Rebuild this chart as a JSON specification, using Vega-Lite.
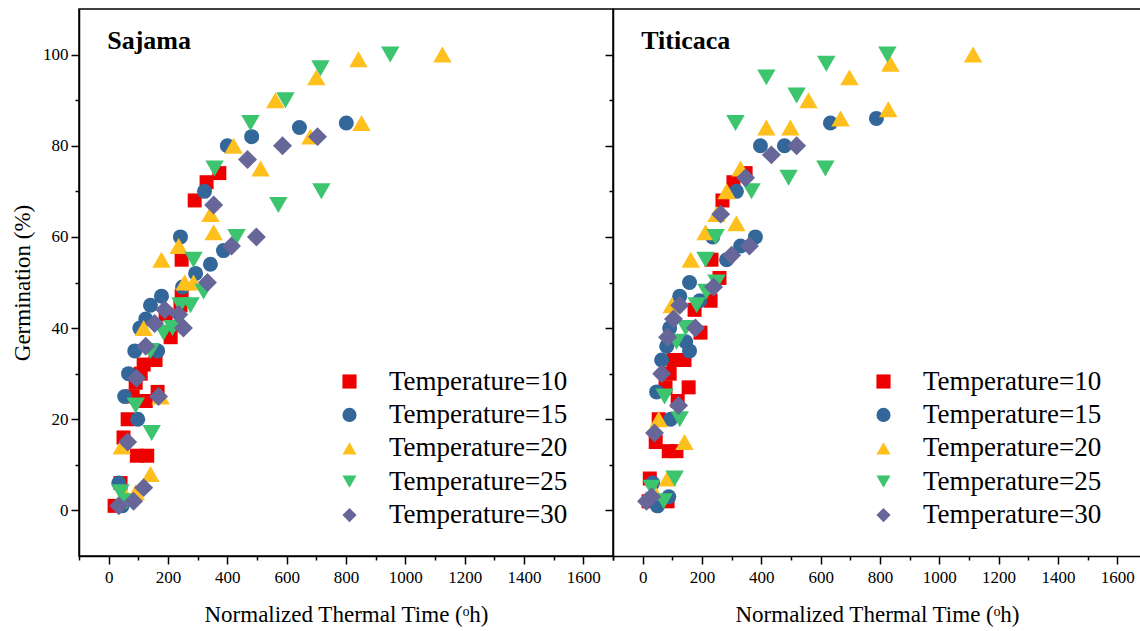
{
  "$schema": "https://vega.github.io/schema/vega-lite/v6.json",
  "padding": {"left": 10, "top": 8, "right": 0, "bottom": 0},
  "bounds": "flush",
  "spacing": 0,
  "datasets": {
    "germ": [
      {"site":"Sajama","T":10,"ntt":20,"g":1},{"site":"Sajama","T":10,"ntt":40,"g":6},{"site":"Sajama","T":10,"ntt":50,"g":16},{"site":"Sajama","T":10,"ntt":64,"g":20},{"site":"Sajama","T":10,"ntt":95,"g":12},{"site":"Sajama","T":10,"ntt":130,"g":12},{"site":"Sajama","T":10,"ntt":81,"g":25},{"site":"Sajama","T":10,"ntt":91,"g":28},{"site":"Sajama","T":10,"ntt":108,"g":30},{"site":"Sajama","T":10,"ntt":118,"g":32},{"site":"Sajama","T":10,"ntt":125,"g":24},{"site":"Sajama","T":10,"ntt":165,"g":26},{"site":"Sajama","T":10,"ntt":158,"g":33},{"site":"Sajama","T":10,"ntt":192,"g":43},{"site":"Sajama","T":10,"ntt":209,"g":38},{"site":"Sajama","T":10,"ntt":242,"g":45},{"site":"Sajama","T":10,"ntt":246,"g":47},{"site":"Sajama","T":10,"ntt":246,"g":55},{"site":"Sajama","T":10,"ntt":290,"g":68},{"site":"Sajama","T":10,"ntt":330,"g":72},{"site":"Sajama","T":10,"ntt":373,"g":74},
      {"site":"Sajama","T":15,"ntt":34,"g":6},{"site":"Sajama","T":15,"ntt":45,"g":1},{"site":"Sajama","T":15,"ntt":98,"g":20},{"site":"Sajama","T":15,"ntt":54,"g":25},{"site":"Sajama","T":15,"ntt":67,"g":30},{"site":"Sajama","T":15,"ntt":88,"g":35},{"site":"Sajama","T":15,"ntt":165,"g":35},{"site":"Sajama","T":15,"ntt":105,"g":40},{"site":"Sajama","T":15,"ntt":125,"g":42},{"site":"Sajama","T":15,"ntt":141,"g":45},{"site":"Sajama","T":15,"ntt":178,"g":47},{"site":"Sajama","T":15,"ntt":249,"g":49},{"site":"Sajama","T":15,"ntt":293,"g":52},{"site":"Sajama","T":15,"ntt":343,"g":54},{"site":"Sajama","T":15,"ntt":387,"g":57},{"site":"Sajama","T":15,"ntt":242,"g":60},{"site":"Sajama","T":15,"ntt":323,"g":70},{"site":"Sajama","T":15,"ntt":400,"g":80},{"site":"Sajama","T":15,"ntt":482,"g":82},{"site":"Sajama","T":15,"ntt":643,"g":84},{"site":"Sajama","T":15,"ntt":801,"g":85},
      {"site":"Sajama","T":20,"ntt":60,"g":3},{"site":"Sajama","T":20,"ntt":44,"g":14},{"site":"Sajama","T":20,"ntt":91,"g":4},{"site":"Sajama","T":20,"ntt":141,"g":8},{"site":"Sajama","T":20,"ntt":175,"g":25},{"site":"Sajama","T":20,"ntt":118,"g":40},{"site":"Sajama","T":20,"ntt":256,"g":50},{"site":"Sajama","T":20,"ntt":286,"g":50},{"site":"Sajama","T":20,"ntt":178,"g":55},{"site":"Sajama","T":20,"ntt":236,"g":58},{"site":"Sajama","T":20,"ntt":354,"g":61},{"site":"Sajama","T":20,"ntt":343,"g":65},{"site":"Sajama","T":20,"ntt":512,"g":75},{"site":"Sajama","T":20,"ntt":421,"g":80},{"site":"Sajama","T":20,"ntt":680,"g":82},{"site":"Sajama","T":20,"ntt":852,"g":85},{"site":"Sajama","T":20,"ntt":562,"g":90},{"site":"Sajama","T":20,"ntt":700,"g":95},{"site":"Sajama","T":20,"ntt":842,"g":99},{"site":"Sajama","T":20,"ntt":1125,"g":100},
      {"site":"Sajama","T":25,"ntt":40,"g":4},{"site":"Sajama","T":25,"ntt":60,"g":2},{"site":"Sajama","T":25,"ntt":91,"g":23},{"site":"Sajama","T":25,"ntt":145,"g":17},{"site":"Sajama","T":25,"ntt":141,"g":35},{"site":"Sajama","T":25,"ntt":185,"g":39},{"site":"Sajama","T":25,"ntt":215,"g":40},{"site":"Sajama","T":25,"ntt":242,"g":45},{"site":"Sajama","T":25,"ntt":276,"g":45},{"site":"Sajama","T":25,"ntt":320,"g":48},{"site":"Sajama","T":25,"ntt":286,"g":55},{"site":"Sajama","T":25,"ntt":431,"g":60},{"site":"Sajama","T":25,"ntt":572,"g":67},{"site":"Sajama","T":25,"ntt":717,"g":70},{"site":"Sajama","T":25,"ntt":357,"g":75},{"site":"Sajama","T":25,"ntt":478,"g":85},{"site":"Sajama","T":25,"ntt":596,"g":90},{"site":"Sajama","T":25,"ntt":714,"g":97},{"site":"Sajama","T":25,"ntt":949,"g":100},
      {"site":"Sajama","T":30,"ntt":34,"g":1},{"site":"Sajama","T":30,"ntt":84,"g":2},{"site":"Sajama","T":30,"ntt":118,"g":5},{"site":"Sajama","T":30,"ntt":64,"g":15},{"site":"Sajama","T":30,"ntt":168,"g":25},{"site":"Sajama","T":30,"ntt":94,"g":29},{"site":"Sajama","T":30,"ntt":125,"g":36},{"site":"Sajama","T":30,"ntt":155,"g":41},{"site":"Sajama","T":30,"ntt":189,"g":44},{"site":"Sajama","T":30,"ntt":236,"g":43},{"site":"Sajama","T":30,"ntt":252,"g":40},{"site":"Sajama","T":30,"ntt":333,"g":50},{"site":"Sajama","T":30,"ntt":354,"g":67},{"site":"Sajama","T":30,"ntt":414,"g":58},{"site":"Sajama","T":30,"ntt":498,"g":60},{"site":"Sajama","T":30,"ntt":468,"g":77},{"site":"Sajama","T":30,"ntt":586,"g":80},{"site":"Sajama","T":30,"ntt":704,"g":82},
      {"site":"Titicaca","T":10,"ntt":20,"g":2},{"site":"Titicaca","T":10,"ntt":24,"g":7},{"site":"Titicaca","T":10,"ntt":84,"g":2},{"site":"Titicaca","T":10,"ntt":44,"g":15},{"site":"Titicaca","T":10,"ntt":54,"g":20},{"site":"Titicaca","T":10,"ntt":88,"g":13},{"site":"Titicaca","T":10,"ntt":114,"g":13},{"site":"Titicaca","T":10,"ntt":118,"g":24},{"site":"Titicaca","T":10,"ntt":77,"g":27},{"site":"Titicaca","T":10,"ntt":155,"g":27},{"site":"Titicaca","T":10,"ntt":91,"g":30},{"site":"Titicaca","T":10,"ntt":104,"g":33},{"site":"Titicaca","T":10,"ntt":141,"g":33},{"site":"Titicaca","T":10,"ntt":195,"g":39},{"site":"Titicaca","T":10,"ntt":175,"g":44},{"site":"Titicaca","T":10,"ntt":229,"g":46},{"site":"Titicaca","T":10,"ntt":259,"g":51},{"site":"Titicaca","T":10,"ntt":232,"g":55},{"site":"Titicaca","T":10,"ntt":269,"g":68},{"site":"Titicaca","T":10,"ntt":306,"g":72},{"site":"Titicaca","T":10,"ntt":347,"g":74},
      {"site":"Titicaca","T":15,"ntt":50,"g":1},{"site":"Titicaca","T":15,"ntt":34,"g":6},{"site":"Titicaca","T":15,"ntt":88,"g":3},{"site":"Titicaca","T":15,"ntt":94,"g":20},{"site":"Titicaca","T":15,"ntt":47,"g":26},{"site":"Titicaca","T":15,"ntt":64,"g":33},{"site":"Titicaca","T":15,"ntt":81,"g":36},{"site":"Titicaca","T":15,"ntt":158,"g":35},{"site":"Titicaca","T":15,"ntt":145,"g":37},{"site":"Titicaca","T":15,"ntt":91,"g":40},{"site":"Titicaca","T":15,"ntt":192,"g":46},{"site":"Titicaca","T":15,"ntt":125,"g":47},{"site":"Titicaca","T":15,"ntt":158,"g":50},{"site":"Titicaca","T":15,"ntt":283,"g":55},{"site":"Titicaca","T":15,"ntt":330,"g":58},{"site":"Titicaca","T":15,"ntt":236,"g":60},{"site":"Titicaca","T":15,"ntt":380,"g":60},{"site":"Titicaca","T":15,"ntt":316,"g":70},{"site":"Titicaca","T":15,"ntt":397,"g":80},{"site":"Titicaca","T":15,"ntt":478,"g":80},{"site":"Titicaca","T":15,"ntt":633,"g":85},{"site":"Titicaca","T":15,"ntt":788,"g":86},
      {"site":"Titicaca","T":20,"ntt":40,"g":4},{"site":"Titicaca","T":20,"ntt":84,"g":7},{"site":"Titicaca","T":20,"ntt":54,"g":20},{"site":"Titicaca","T":20,"ntt":141,"g":15},{"site":"Titicaca","T":20,"ntt":98,"g":45},{"site":"Titicaca","T":20,"ntt":162,"g":55},{"site":"Titicaca","T":20,"ntt":212,"g":61},{"site":"Titicaca","T":20,"ntt":316,"g":63},{"site":"Titicaca","T":20,"ntt":249,"g":65},{"site":"Titicaca","T":20,"ntt":283,"g":70},{"site":"Titicaca","T":20,"ntt":330,"g":75},{"site":"Titicaca","T":20,"ntt":417,"g":84},{"site":"Titicaca","T":20,"ntt":498,"g":84},{"site":"Titicaca","T":20,"ntt":667,"g":86},{"site":"Titicaca","T":20,"ntt":559,"g":90},{"site":"Titicaca","T":20,"ntt":697,"g":95},{"site":"Titicaca","T":20,"ntt":828,"g":88},{"site":"Titicaca","T":20,"ntt":835,"g":98},{"site":"Titicaca","T":20,"ntt":1114,"g":100},
      {"site":"Titicaca","T":25,"ntt":30,"g":5},{"site":"Titicaca","T":25,"ntt":71,"g":2},{"site":"Titicaca","T":25,"ntt":108,"g":7},{"site":"Titicaca","T":25,"ntt":125,"g":20},{"site":"Titicaca","T":25,"ntt":74,"g":25},{"site":"Titicaca","T":25,"ntt":114,"g":37},{"site":"Titicaca","T":25,"ntt":145,"g":40},{"site":"Titicaca","T":25,"ntt":182,"g":45},{"site":"Titicaca","T":25,"ntt":215,"g":48},{"site":"Titicaca","T":25,"ntt":249,"g":50},{"site":"Titicaca","T":25,"ntt":212,"g":55},{"site":"Titicaca","T":25,"ntt":246,"g":60},{"site":"Titicaca","T":25,"ntt":367,"g":70},{"site":"Titicaca","T":25,"ntt":492,"g":73},{"site":"Titicaca","T":25,"ntt":616,"g":75},{"site":"Titicaca","T":25,"ntt":313,"g":85},{"site":"Titicaca","T":25,"ntt":519,"g":91},{"site":"Titicaca","T":25,"ntt":417,"g":95},{"site":"Titicaca","T":25,"ntt":619,"g":98},{"site":"Titicaca","T":25,"ntt":825,"g":100},
      {"site":"Titicaca","T":30,"ntt":13,"g":2},{"site":"Titicaca","T":30,"ntt":30,"g":3},{"site":"Titicaca","T":30,"ntt":40,"g":17},{"site":"Titicaca","T":30,"ntt":121,"g":23},{"site":"Titicaca","T":30,"ntt":64,"g":30},{"site":"Titicaca","T":30,"ntt":84,"g":38},{"site":"Titicaca","T":30,"ntt":104,"g":42},{"site":"Titicaca","T":30,"ntt":125,"g":45},{"site":"Titicaca","T":30,"ntt":178,"g":40},{"site":"Titicaca","T":30,"ntt":239,"g":49},{"site":"Titicaca","T":30,"ntt":300,"g":56},{"site":"Titicaca","T":30,"ntt":360,"g":58},{"site":"Titicaca","T":30,"ntt":263,"g":65},{"site":"Titicaca","T":30,"ntt":347,"g":73},{"site":"Titicaca","T":30,"ntt":434,"g":78},{"site":"Titicaca","T":30,"ntt":519,"g":80}
    ]
  },
  "resolve": {"legend": {"color": "independent", "shape": "independent"}},
  "hconcat": [
    {
      "width": 534,
      "height": 547,
      "view": {"stroke": "#000", "strokeWidth": 1.5},
      "resolve": {"axis": {"x": "independent"}},
      "layer": [
        {
          "data": {"name": "germ"},
          "transform": [{"filter": "datum.site === 'Sajama'"}],
          "mark": {"type": "point", "filled": true, "opacity": 1},
          "encoding": {
            "x": {"field": "ntt", "type": "quantitative", "scale": {"domain": [-100, 1700], "nice": false, "zero": false},
                  "axis": {"orient": "bottom", "title": "Normalized Thermal Time (ᵒh)", "values": [0,200,400,600,800,1000,1200,1400,1600],
                           "format": "d", "tickSize": 8, "labelPadding": 5, "titlePadding": 18}},
            "y": {"field": "g", "type": "quantitative", "scale": {"domain": [-10, 110], "nice": false, "zero": false},
                  "axis": {"title": "Germination (%)", "values": [0,10,20,30,40,50,60,70,80,90,100],
                           "labelExpr": "datum.value % 20 === 0 ? datum.label : ''", "labelOverlap": false,
                           "tickSize": {"condition": {"test": "datum.value % 20 === 0", "value": 8}, "value": 4},
                           "labelPadding": 3, "titlePadding": 8}},
            "color": {"field": "T", "type": "nominal", "scale": {"domain": [10,15,20,25,30], "range": ["#EE0000","#336699","#FFC01E","#3DC46E","#676699"]},
                      "legend": {"orient": "none", "legendX": 257, "legendY": 359, "title": null, "labelExpr": "'Temperature=' + datum.label"}},
            "shape": {"field": "T", "type": "nominal", "scale": {"domain": [10,15,20,25,30], "range": ["square","circle","triangle-up","triangle-down","diamond"]},
                      "legend": {"orient": "none", "legendX": 257, "legendY": 359, "title": null, "labelExpr": "'Temperature=' + datum.label"}},
            "size": {"field": "T", "type": "nominal", "scale": {"type": "ordinal", "domain": [10,15,20,25,30], "range": [196,225,340,340,360]}, "legend": null}
          }
        },
        {
          "data": {"values": [{"site": "Sajama"}]},
          "mark": {"type": "text", "align": "left", "baseline": "alphabetic", "font": "Liberation Serif", "fontSize": 26, "fontWeight": "bold", "color": "#000"},
          "encoding": {
            "x": {"datum": -5, "type": "quantitative", "scale": {"domain": [-100, 1700], "nice": false, "zero": false},
                  "axis": {"orient": "bottom", "title": null, "labels": false, "domain": false, "tickSize": 4,
                           "values": [-100,100,300,500,700,900,1100,1300,1500,1700]}},
            "y": {"datum": 101.2, "type": "quantitative"},
            "text": {"field": "site"}
          }
        }
      ]
    },
    {
      "width": 528,
      "height": 547,
      "view": {"stroke": "#000", "strokeWidth": 1.5, "strokeDash": [528, 3000]},
      "resolve": {"axis": {"x": "independent"}},
      "layer": [
        {
          "data": {"name": "germ"},
          "transform": [{"filter": "datum.site === 'Titicaca'"}],
          "mark": {"type": "point", "filled": true, "opacity": 1},
          "encoding": {
            "x": {"field": "ntt", "type": "quantitative", "scale": {"domain": [-100, 1680], "nice": false, "zero": false},
                  "axis": {"orient": "bottom", "title": "Normalized Thermal Time (ᵒh)", "values": [0,200,400,600,800,1000,1200,1400,1600],
                           "format": "d", "tickSize": 8, "labelPadding": 5, "titlePadding": 18}},
            "y": {"field": "g", "type": "quantitative", "scale": {"domain": [-10, 110], "nice": false, "zero": false},
                  "axis": {"title": null, "labels": false, "values": [0,10,20,30,40,50,60,70,80,90,100],
                           "tickSize": {"condition": {"test": "datum.value % 20 === 0", "value": 8}, "value": 4},
                           "minExtent": 0, "maxExtent": 0}},
            "color": {"field": "T", "type": "nominal", "scale": {"domain": [10,15,20,25,30], "range": ["#EE0000","#336699","#FFC01E","#3DC46E","#676699"]},
                      "legend": {"orient": "none", "legendX": 257, "legendY": 359, "title": null, "labelExpr": "'Temperature=' + datum.label"}},
            "shape": {"field": "T", "type": "nominal", "scale": {"domain": [10,15,20,25,30], "range": ["square","circle","triangle-up","triangle-down","diamond"]},
                      "legend": {"orient": "none", "legendX": 257, "legendY": 359, "title": null, "labelExpr": "'Temperature=' + datum.label"}},
            "size": {"field": "T", "type": "nominal", "scale": {"type": "ordinal", "domain": [10,15,20,25,30], "range": [196,225,340,340,360]}, "legend": null}
          }
        },
        {
          "data": {"values": [{"site": "Titicaca"}]},
          "mark": {"type": "text", "align": "left", "baseline": "alphabetic", "font": "Liberation Serif", "fontSize": 26, "fontWeight": "bold", "color": "#000"},
          "encoding": {
            "x": {"datum": -5, "type": "quantitative", "scale": {"domain": [-100, 1680], "nice": false, "zero": false},
                  "axis": {"orient": "bottom", "title": null, "labels": false, "domain": false, "tickSize": 4,
                           "values": [-100,100,300,500,700,900,1100,1300,1500]}},
            "y": {"datum": 101.2, "type": "quantitative"},
            "text": {"field": "site"}
          }
        }
      ]
    }
  ],
  "config": {
    "font": "Liberation Serif",
    "view": {"stroke": null},
    "axis": {
      "grid": false,
      "domainColor": "#000", "domainWidth": 1.5,
      "tickColor": "#000", "tickWidth": 1.5,
      "labelColor": "#000", "labelFont": "Liberation Serif", "labelFontSize": 17,
      "titleColor": "#000", "titleFont": "Liberation Serif", "titleFontSize": 23, "titleFontWeight": "normal"
    },
    "legend": {
      "labelFont": "Liberation Serif", "labelFontSize": 27, "labelColor": "#000", "labelLimit": 400,
      "symbolSize": 200, "symbolStrokeWidth": 0, "rowPadding": 5.4, "labelOffset": 26, "padding": 0
    }
  }
}
